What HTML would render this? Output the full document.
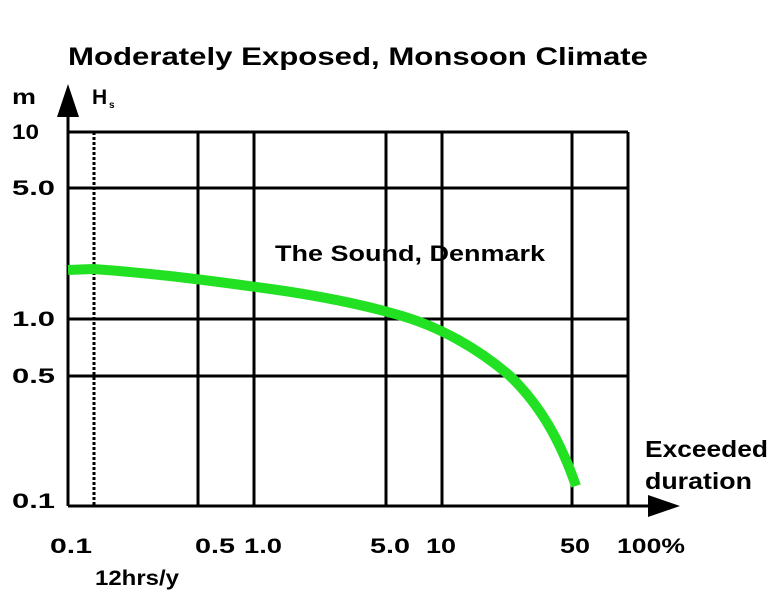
<!DOCTYPE html>
<html><head><style>
html,body{margin:0;padding:0;background:#fff;}
svg{display:block;}
text{font-family:"Liberation Sans",sans-serif;font-weight:bold;fill:#000;}
</style></head><body>
<svg width="768" height="600" viewBox="0 0 768 600">
<text x="68" y="65" font-size="25" textLength="580" lengthAdjust="spacingAndGlyphs">Moderately Exposed, Monsoon Climate</text>
<text x="12" y="104" font-size="21" textLength="24" lengthAdjust="spacingAndGlyphs">m</text>
<text x="92" y="104" font-size="21">H</text><text x="109" y="108" font-size="10">s</text>
<g stroke="#000" stroke-width="3" fill="none">
<line x1="68" y1="132" x2="628" y2="132"/>
<line x1="68" y1="188" x2="628" y2="188"/>
<line x1="68" y1="319" x2="628" y2="319"/>
<line x1="68" y1="376" x2="628" y2="376"/>
<line x1="198" y1="132" x2="198" y2="506"/>
<line x1="254" y1="132" x2="254" y2="506"/>
<line x1="386" y1="132" x2="386" y2="506"/>
<line x1="442" y1="132" x2="442" y2="506"/>
<line x1="572" y1="132" x2="572" y2="506"/>
<line x1="628" y1="132" x2="628" y2="506"/>
<line x1="94" y1="132" x2="94" y2="506" stroke-dasharray="3,2"/>
<line x1="68" y1="506" x2="655" y2="506"/>
<line x1="68" y1="506" x2="68" y2="110"/>
</g>
<polygon points="68,84 57,117 79,117" fill="#000"/>
<polygon points="680,506 648,495 648,517" fill="#000"/>
<path d="M68,270 L93,269 C150,273 198,279 256,287 C310,294 360,304 395,314 C440,326 480,350 510,376 C540,405 560,440 576,486" stroke="#22e022" stroke-width="10" fill="none" stroke-linecap="butt"/>
<text x="275" y="261" font-size="22" textLength="270" lengthAdjust="spacingAndGlyphs">The Sound, Denmark</text>
<g font-size="21">
<text x="12" y="139" textLength="27" lengthAdjust="spacingAndGlyphs">10</text>
<text x="12" y="195" textLength="43" lengthAdjust="spacingAndGlyphs">5.0</text>
<text x="12" y="326" textLength="43" lengthAdjust="spacingAndGlyphs">1.0</text>
<text x="12" y="383" textLength="43" lengthAdjust="spacingAndGlyphs">0.5</text>
<text x="12" y="508" textLength="43" lengthAdjust="spacingAndGlyphs">0.1</text>
<text x="50" y="553" textLength="42" lengthAdjust="spacingAndGlyphs">0.1</text>
<text x="195" y="553" textLength="40" lengthAdjust="spacingAndGlyphs">0.5</text>
<text x="244" y="553" textLength="38" lengthAdjust="spacingAndGlyphs">1.0</text>
<text x="370" y="553" textLength="40" lengthAdjust="spacingAndGlyphs">5.0</text>
<text x="426" y="553" textLength="30" lengthAdjust="spacingAndGlyphs">10</text>
<text x="560" y="553" textLength="30" lengthAdjust="spacingAndGlyphs">50</text>
<text x="617" y="553" textLength="68" lengthAdjust="spacingAndGlyphs">100%</text>
<text x="95" y="585" textLength="84" lengthAdjust="spacingAndGlyphs">12hrs/y</text>
<text x="645" y="457" font-size="23" textLength="123" lengthAdjust="spacingAndGlyphs">Exceeded</text>
<text x="645" y="489" font-size="23" textLength="107" lengthAdjust="spacingAndGlyphs">duration</text>
</g>
</svg>
</body></html>
